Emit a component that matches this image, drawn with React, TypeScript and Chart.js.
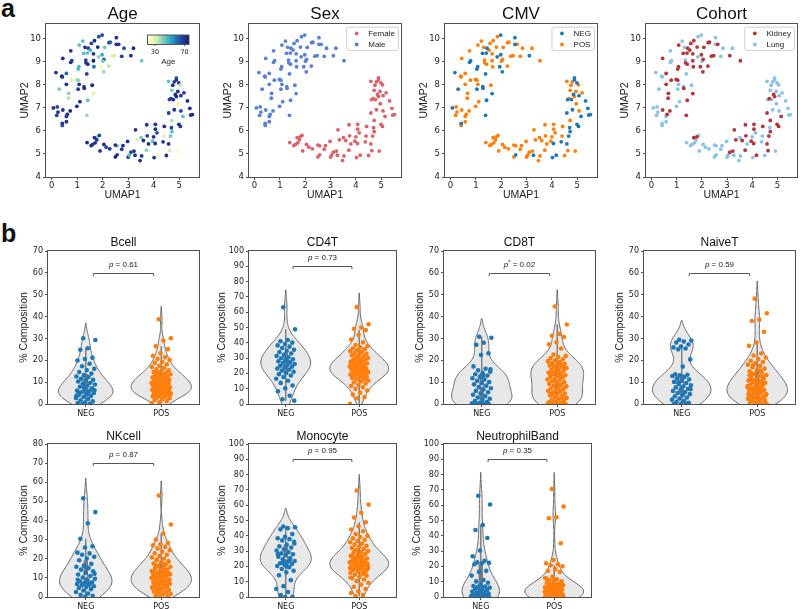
import React, { useEffect, useRef } from "react";
import { Chart, registerables } from "chart.js";

Chart.register(...registerables);

/* ======================= DATA ======================= */
// UMAP embedding (first 77 male, then 80 female)
const umapX = [
  1.98, 1.85, 2.54, 1.68, 1.56, 1.22, 1.08, 1.31, 1.44, 1.52, 1.81, 2.25, 2.30, 2.54, 2.63, 2.84, 3.21, 2.08, 1.26, 1.41,
  1.64, 1.98, 1.84, 2.05, 2.01, 2.38, 2.47, 2.75, 3.11, 3.53, 0.44, 0.75, 0.79, 0.75, 1.34, 1.35, 1.42, 1.64, 1.66, 1.94,
  2.24, 2.04, 1.04, 1.07, 0.17, 0.40, 0.42, 0.58, 1.38, 0.98, 1.04, 0.78, 0.58, 0.30, 1.08, 1.27, 1.59, 1.28, 1.04, 0.67,
  1.64, 0.66, 1.11, 1.42, 0.99, 0.07, 0.22, 0.44, 0.73, 0.25, 0.20, 0.62, 0.58, 1.38, 0.58, 0.42, 0.42,
  4.89, 4.89, 4.59, 4.81, 4.99, 5.05, 4.75, 4.72, 4.95, 5.19, 4.85, 4.89, 4.68, 4.62, 4.77, 5.07, 5.33, 4.96, 4.81, 4.59,
  5.42, 5.07, 5.15, 5.45, 5.52, 4.72, 4.99, 5.05, 4.42, 4.07, 3.73, 4.07, 3.29, 4.70, 4.72, 4.66, 4.40, 4.13, 4.00, 3.75,
  3.51, 3.35, 3.60, 2.98, 3.96, 3.80, 4.06, 4.37, 4.59, 4.63, 4.92, 4.50, 4.17, 4.02, 3.53, 3.27, 3.11, 3.23, 3.00, 3.04,
  3.47, 2.50, 2.57, 2.57, 2.50, 2.28, 2.14, 2.05, 1.90, 1.61, 1.71, 1.80, 1.68, 1.87, 1.77, 1.39, 1.55, 2.80, 2.75, 3.72,
];
const umapY = [
  10.14, 10.07, 10.03, 9.90, 9.78, 9.88, 9.71, 9.61, 9.57, 9.49, 9.62, 9.81, 9.83, 9.74, 9.74, 9.57, 9.57, 9.61, 9.35, 9.36,
  9.33, 9.29, 9.20, 9.09, 9.01, 9.23, 9.25, 9.22, 9.25, 9.03, 9.13, 8.96, 9.03, 9.46, 9.06, 8.94, 8.88, 9.03, 8.77, 8.77,
  8.80, 8.55, 8.67, 8.77, 8.52, 8.36, 8.33, 8.48, 8.46, 8.22, 8.19, 8.19, 8.01, 7.80, 8.01, 7.91, 7.97, 7.84, 7.80, 7.62,
  7.61, 7.41, 7.26, 7.32, 7.06, 6.99, 7.03, 6.90, 6.86, 6.81, 6.67, 6.71, 6.62, 6.67, 6.39, 6.32, 6.23,
  8.29, 8.20, 8.14, 8.12, 8.07, 7.99, 7.97, 7.75, 7.70, 7.64, 7.57, 7.48, 7.39, 7.35, 7.35, 7.52, 7.29, 7.17, 6.91, 6.77,
  6.97, 6.86, 6.62, 6.68, 6.70, 6.45, 6.28, 6.19, 6.19, 6.28, 6.26, 6.07, 6.04, 6.13, 5.96, 5.77, 5.77, 5.91, 5.74, 5.78,
  5.70, 5.61, 5.58, 5.54, 5.55, 5.43, 5.45, 5.52, 5.43, 5.14, 5.12, 4.93, 4.94, 4.84, 4.91, 4.94, 5.07, 5.12, 4.86, 4.94,
  4.71, 4.87, 4.96, 5.35, 5.38, 5.22, 5.29, 5.41, 5.13, 5.41, 5.48, 5.74, 5.70, 5.80, 5.61, 5.49, 5.36, 5.36, 5.20, 5.16,
];
const umapAge = [
  68, 65, 70, 72, 66, 45, 44, 70, 67, 48, 73, 70, 62, 71, 69, 64, 70, 43, 45, 44,
  70, 50, 40, 62, 42, 29, 31, 68, 70, 42, 70, 72, 68, 70, 66, 71, 69, 74, 60, 25,
  35, 38, 46, 47, 70, 72, 70, 60, 68, 34, 40, 30, 70, 42, 70, 65, 72, 70, 68, 40,
  30, 36, 70, 44, 71, 70, 66, 69, 72, 70, 67, 70, 68, 38, 70, 72, 65,
  60, 70, 44, 68, 70, 35, 70, 42, 70, 68, 70, 72, 70, 66, 70, 69, 70, 26, 70, 68,
  70, 66, 44, 70, 72, 36, 70, 68, 70, 69, 70, 71, 70, 66, 44, 42, 30, 65, 70, 67,
  42, 30, 70, 70, 45, 70, 70, 69, 70, 32, 24, 70, 26, 70, 68, 70, 66, 70, 70, 45,
  70, 72, 69, 44, 70, 70, 66, 70, 70, 68, 70, 38, 70, 66, 70, 72, 70, 70, 68, 40,
];
const umapSex =
  "MMMMMMMMMM" + "MMMMMMMMMM" + "MMMMMMMMMM" + "MMMMMMMMMM" + "MMMMMMMMMM" + "MMMMMMMMMM" + "MMMMMMMMMM" + "MMMMMMM" +
  "FFFFFFFFFF" + "FFFFFFFFFF" + "FFFFFFFFFF" + "FFFFFFFFFF" + "FFFFFFFFFF" + "FFFFFFFFFF" + "FFFFFFFFFF" + "FFFFFFFFFF";
const umapCmv =
  "NPNPPPPPNP" + "PPPNPPPPNN" + "PNNPPPPPNP" + "PNNPPPPPPN" + "PNNNNPPPNP" + "PPPNPNPNNP" + "NPPNPNPPPP" + "PPPNPNP" +
  "NNPPNPPPPP" + "NPPNNNNPNN" + "NPNNNPNNPP" + "PPPNNNPPPP" + "PPPPPPNNNP" + "PPNNPNPPPP" + "PPNPPPPPPP" + "PPPPPPPPPP";
const umapCohort =
  "LLLKKLKLKK" + "KKKLKLLKKK" + "KKLKLKKLKK" + "KLLLLKKKKK" + "KKKKLLLKLK" + "KKKLLLLKLK" + "KKLKLLLKKL" + "LKLKLLL" +
  "LLLLLLLLLL" + "KKKLLLLLLK" + "LLKLLKKKKK" + "KKKLKKLLLK" + "LKKLKLKLKK" + "LLKLLLKKLL" + "LLLLLLLLLL" + "LKKLLLLLLK";

const umapTitles = ["Age", "Sex", "CMV", "Cohort"];
const umapXTicks = [0, 1, 2, 3, 4, 5];
const umapYTicks = [4, 5, 6, 7, 8, 9, 10];
const umapXRange = [-0.22, 5.78];
const umapYRange = [4, 10.62];
const ageBarTicks = [30, 70];
const ageRange = [20, 76];
const sexLabels = ["Female", "Male"];
const cmvGroups = ["NEG", "POS"];
const cohortLabels = ["Kidney", "Lung"];

// % composition per cell type
const bcellNeg = [30.1, 29.3, 25.5, 24.8, 21.2, 20.6, 19.9, 18.4, 17.3, 16.1, 15.5, 14.6, 13.9, 13.2, 12.6, 12.3, 11.5, 11.1, 10.7, 10.3,
  9.7, 9.4, 8.9, 8.3, 7.9, 7.2, 6.6, 6.1, 5.8, 5.4, 5.0, 4.6, 4.1, 3.7, 3.2, 2.8, 2.3, 1.7, 1.2, 0.8, 0.4, 0.1, 0.0, 6.3, 4.4, 5.2, 6.9, 7.6, 3.9, 5.6];
const bcellPos = [38.8, 30.1, 29.0, 26.4, 25.1, 23.2, 22.1, 21.4, 20.7, 20.1, 19.3, 18.8, 18.2, 17.5, 16.9, 16.4, 15.9, 15.4, 15.0, 14.6,
  14.2, 13.9, 13.6, 13.2, 12.9, 12.6, 12.3, 12.0, 11.7, 11.4, 11.1, 10.8, 10.5, 10.2, 9.9, 9.6, 9.4, 9.1, 8.8, 8.6,
  8.3, 8.1, 7.8, 7.6, 7.4, 7.1, 6.9, 6.7, 6.5, 6.3, 6.1, 5.9, 5.7, 5.5, 5.3, 5.1, 4.9, 4.7, 4.5, 4.2,
  3.9, 3.6, 3.3, 3.0, 2.6, 2.2, 1.8, 1.3, 0.8, 0.3, 7.2, 8.4, 9.7, 10.9, 12.2, 6.8, 5.6, 4.4, 13.1, 7.9, 6.0, 11.9, 9.2, 8.9, 14.4];
const cd4tNeg = [63.2, 48.8, 41.8, 41.0, 40.1, 39.2, 38.3, 37.5, 36.6, 35.5, 34.8, 33.9, 33.0, 32.1, 31.4, 30.6, 29.9, 29.2, 28.6, 27.9,
  27.3, 26.7, 26.1, 25.6, 25.0, 24.4, 23.8, 23.2, 22.5, 21.8, 21.0, 20.3, 19.5, 18.6, 17.6, 16.5, 15.2, 13.8, 12.1, 10.2, 8.3, 5.4, 3.1, 2.2, 28.1];
const cd4tPos = [63.3, 52.1, 50.0, 49.2, 48.3, 45.2, 42.1, 40.3, 38.6, 37.9, 37.1, 36.4, 35.8, 35.2, 34.6, 34.0, 33.4, 32.8, 32.3, 31.8,
  31.2, 30.7, 30.2, 29.7, 29.2, 28.8, 28.3, 27.8, 27.4, 26.9, 26.5, 26.1, 25.6, 25.2, 24.8, 24.4, 24.0, 23.6, 23.2, 22.8,
  22.4, 22.0, 21.6, 21.2, 20.8, 20.4, 20.0, 19.6, 19.2, 18.8, 18.4, 18.0, 17.5, 17.0, 16.5, 16.0, 15.4, 14.8, 14.1, 13.4,
  12.6, 11.8, 10.9, 9.9, 8.8, 7.4, 6.1, 4.6, 3.8, 0.2, 25.9, 23.4, 21.9, 19.9, 27.1, 24.6, 22.2, 20.6, 28.0, 17.8, 16.2, 30.1, 26.3, 23.0, 21.4];
const cd8tNeg = [30.8, 30.3, 28.0, 27.1, 23.2, 22.4, 17.2, 16.1, 15.4, 14.8, 14.2, 13.6, 13.0, 12.4, 11.8, 11.2, 10.6, 10.0, 9.5, 9.0,
  8.4, 7.8, 7.2, 6.6, 6.0, 5.4, 4.8, 4.2, 3.6, 3.0, 2.4, 1.9, 1.4, 1.0, 0.6, 0.3, 0.1, 0.0, 0.0, 0.0, 0.0, 0.0, 0.0, 15.9, 12.9];
const cd8tPos = [44.6, 36.4, 32.1, 31.2, 30.6, 28.2, 27.3, 25.4, 22.6, 22.0, 21.5, 21.0, 20.5, 20.0, 19.6, 19.2, 18.8, 18.4, 18.0, 17.6,
  17.2, 16.8, 16.4, 16.0, 15.6, 15.2, 14.8, 14.4, 14.0, 13.6, 13.2, 12.8, 12.4, 12.0, 11.6, 11.2, 10.8, 10.4, 10.0, 9.6,
  9.2, 8.8, 8.4, 8.0, 7.6, 7.2, 6.8, 6.4, 6.0, 5.6, 5.2, 4.8, 4.4, 4.0, 3.6, 3.2, 2.8, 2.4, 2.0, 1.6,
  1.2, 0.8, 0.4, 0.2, 0.0, 0.0, 0.0, 0.0, 0.0, 0.0, 0.0, 17.9, 16.6, 15.1, 13.9, 12.6, 10.9, 8.1, 6.3, 4.6, 2.6, 1.1, 19.4, 18.3, 14.6];
const naiveNeg = [29.4, 29.0, 28.6, 28.1, 27.2, 26.3, 25.9, 25.4, 25.0, 20.4, 17.1, 13.6, 13.4, 13.1, 12.8, 12.3, 11.8, 11.2, 10.7, 10.1,
  9.6, 9.1, 8.6, 8.1, 7.6, 7.0, 6.5, 6.0, 5.5, 5.0, 4.5, 4.0, 3.5, 3.0, 2.5, 2.0, 1.5, 1.0, 0.6, 0.2, 0.0, 0.0, 9.9, 6.8, 4.2];
const naivePos = [48.2, 41.5, 38.6, 38.0, 33.0, 28.1, 26.6, 23.1, 22.2, 21.3, 20.6, 19.8, 19.2, 18.6, 18.0, 17.4, 16.8, 16.2, 15.6, 15.0,
  14.4, 13.8, 13.3, 12.8, 12.3, 11.8, 11.3, 10.8, 10.4, 10.0, 9.6, 9.2, 8.8, 8.4, 8.0, 7.6, 7.2, 6.8, 6.4, 6.0,
  5.6, 5.2, 4.8, 4.4, 4.0, 3.6, 3.2, 2.8, 2.4, 2.0, 1.6, 1.2, 0.8, 0.4, 0.1, 0.0, 0.0, 0.0, 11.1, 9.9,
  8.7, 7.4, 6.2, 5.1, 3.9, 2.6, 1.4, 12.6, 10.6, 8.2, 5.9, 3.3, 1.9, 0.6, 13.1, 9.4, 7.0, 4.6, 2.2, 14.1, 11.5, 6.6, 4.2, 15.3, 17.7];
const nkNeg = [51.6, 44.4, 38.5, 30.4, 26.5, 25.9, 23.2, 22.8, 22.1, 21.0, 20.1, 19.2, 17.3, 16.4, 15.8, 15.1, 14.3, 13.4, 12.6, 11.8,
  11.0, 10.2, 9.5, 8.8, 8.2, 7.7, 7.2, 6.8, 6.4, 6.0, 5.6, 5.2, 4.7, 4.1, 3.4, 2.6, 1.8, 1.1, 0.6, 0.2, 9.0, 7.0, 6.6, 12.1, 15.4];
const nkPos = [53.1, 37.9, 33.2, 30.1, 28.3, 27.6, 27.0, 26.2, 25.4, 24.5, 23.7, 22.9, 22.1, 21.4, 20.7, 20.0, 19.3, 18.7, 18.1, 17.5,
  16.9, 16.3, 15.8, 15.3, 14.8, 14.3, 13.8, 13.3, 12.9, 12.5, 12.1, 11.7, 11.3, 10.9, 10.5, 10.1, 9.7, 9.3, 8.9, 8.5,
  8.1, 7.7, 7.3, 6.9, 6.5, 6.1, 5.7, 5.3, 4.9, 4.5, 4.1, 3.7, 3.3, 2.9, 2.5, 2.1, 1.7, 1.3, 0.9, 0.5,
  0.2, 12.7, 11.5, 10.3, 9.1, 7.9, 6.7, 5.5, 4.3, 13.6, 14.6, 16.6, 18.4, 8.3, 10.7, 6.3, 3.1, 11.9, 9.5, 15.6, 12.3, 7.5, 5.1, 17.2, 19.6];
const monoNeg = [46.1, 45.6, 45.0, 44.2, 41.1, 39.3, 38.4, 37.8, 37.0, 36.1, 34.2, 33.1, 32.3, 31.2, 30.4, 29.3, 28.5, 27.9, 27.2, 26.3,
  25.4, 24.6, 23.5, 22.7, 22.1, 21.6, 21.0, 20.3, 19.4, 18.3, 17.2, 16.1, 14.2, 11.0, 7.1, 5.2, 3.3, 1.2, 0.2, 0.0, 28.0, 24.0, 22.4, 35.0, 19.9];
const monoPos = [69.6, 60.4, 55.1, 52.0, 48.9, 46.2, 44.1, 43.0, 41.2, 40.1, 39.2, 38.3, 37.4, 36.6, 35.8, 35.0, 34.2, 33.5, 32.8, 32.1,
  31.4, 30.7, 30.0, 29.4, 28.8, 28.2, 27.6, 27.0, 26.4, 25.8, 25.2, 24.7, 24.2, 23.7, 23.2, 22.7, 22.2, 21.7, 21.2, 20.7,
  20.2, 19.7, 19.2, 18.7, 18.2, 17.7, 17.1, 16.5, 15.9, 15.3, 14.6, 13.9, 13.1, 12.3, 11.4, 10.4, 9.3, 8.1, 6.7, 5.2,
  3.8, 2.6, 1.5, 0.7, 21.9, 20.4, 19.4, 23.4, 24.4, 18.9, 22.4, 25.5, 17.4, 20.9, 26.6, 16.2, 21.4, 19.9, 27.3, 23.0, 14.9, 18.0, 12.7, 24.0, 30.4];
const neutNeg = [66.2, 60.5, 47.1, 43.8, 38.6, 30.4, 26.6, 23.6, 22.6, 22.3, 22.0, 21.4, 17.1, 16.4, 14.0, 11.1, 10.2, 9.3, 8.1, 7.2,
  6.9, 6.5, 6.1, 5.8, 5.2, 4.6, 4.0, 3.5, 3.0, 2.7, 2.3, 1.9, 1.5, 1.2, 0.9, 0.6, 0.4, 0.2, 0.1, 0.0, 0.0, 0.0, 0.0, 0.0, 1.7];
const neutPos = [70.6, 59.1, 52.2, 51.5, 35.1, 24.2, 22.1, 21.4, 20.8, 20.1, 18.2, 17.1, 16.3, 13.2, 12.4, 11.6, 10.9, 10.3, 9.7, 9.2,
  8.7, 8.2, 7.7, 7.3, 6.9, 6.5, 6.1, 5.8, 5.5, 5.2, 4.9, 4.6, 4.3, 4.0, 3.7, 3.4, 3.1, 2.8, 2.5, 2.3,
  2.1, 1.9, 1.7, 1.5, 1.3, 1.1, 0.9, 0.7, 0.5, 0.4, 0.3, 0.2, 0.1, 0.0, 0.0, 0.0, 0.0, 0.0, 0.0, 0.0,
  0.0, 3.3, 2.6, 1.8, 1.2, 0.6, 5.0, 4.4, 3.9, 6.3, 7.1, 8.0, 9.0, 10.6, 11.9, 2.0, 1.4, 0.8, 3.6, 4.8, 5.6, 6.7, 2.4, 1.0, 0.3];

const violinTitles = ["Bcell", "CD4T", "CD8T", "NaiveT", "NKcell", "Monocyte", "NeutrophilBand"];
const violinNeg = [bcellNeg, cd4tNeg, cd8tNeg, naiveNeg, nkNeg, monoNeg, neutNeg];
const violinPos = [bcellPos, cd4tPos, cd8tPos, naivePos, nkPos, monoPos, neutPos];
const violinYMax = [70, 100, 70, 70, 80, 100, 100];
const violinYStep = 10;
const pValues = ["0.61", "0.73", "0.02", "0.59", "0.87", "0.95", "0.35"];
const pStarred = [false, false, true, false, false, false, false];

/* ======================= STYLE / LAYOUT ======================= */
const SANS = "'Liberation Sans', Arial, Helvetica, sans-serif";
const TICKF = "'DejaVu Sans', 'Liberation Sans', sans-serif";
const INK = "#222222";
const SPINE = "#505050";
const C_FEMALE = "#d8646b";
const C_MALE = "#5b80d2";
const C_NEG = "#1f77b4";
const C_POS = "#ff7f0e";
const C_KIDNEY = "#b5343c";
const C_LUNG = "#8cc3e4";
const VIOLIN_FILL = "#e8e8e8";
const VIOLIN_EDGE = "#666666";
const BOX_GRAY = "#7a7a7a";
const YLGNBU = ["#ffffd9", "#edf8b1", "#c7e9b4", "#7fcdbb", "#41b6c4", "#1d91c0", "#225ea8", "#253494", "#081d58"];
const JITTER = 0.13;

const TOP_T = 24, TOP_B = 177, TOP_H = 204;
const topFrames = [
  { l: 46, r: 199 },
  { l: 249, r: 401 },
  { l: 445, r: 597 },
  { l: 646, r: 797 },
];
const violinFrames = [
  { l: 48, r: 199, t: 251, b: 404, bottom: 20, tp: 7.6, ytp: 16.8 },
  { l: 249, r: 396, t: 251, b: 404, bottom: 20, tp: 7.6, ytp: 14 },
  { l: 444, r: 595, t: 251, b: 404, bottom: 20, tp: 7.6, ytp: 16.8 },
  { l: 644, r: 795, t: 251, b: 404, bottom: 20, tp: 7.6, ytp: 16.8 },
  { l: 48, r: 199, t: 444, b: 597, bottom: 12, tp: 8.8, ytp: 16.8 },
  { l: 249, r: 396, t: 444, b: 597, bottom: 12, tp: 8.8, ytp: 14 },
  { l: 444, r: 591, t: 444, b: 597, bottom: 12, tp: 8.8, ytp: 14 },
];
const LEFT_BOX = 46;
const RIGHT_PAD = 4;

/* ======================= HELPERS ======================= */
function hexRgb(h) {
  const n = parseInt(h.slice(1), 16);
  return [(n >> 16) & 255, (n >> 8) & 255, n & 255];
}
function ylgnbu(t) {
  const c = Math.max(0, Math.min(1, t)) * (YLGNBU.length - 1);
  const i = Math.min(Math.floor(c), YLGNBU.length - 2);
  const f = c - i;
  const a = hexRgb(YLGNBU[i]);
  const b = hexRgb(YLGNBU[i + 1]);
  const m = a.map((v, k) => Math.round(v + (b[k] - v) * f));
  return `rgb(${m[0]},${m[1]},${m[2]})`;
}
function pct(sorted, p) {
  const idx = (sorted.length - 1) * p;
  const lo = Math.floor(idx), hi = Math.ceil(idx);
  return sorted[lo] + (sorted[hi] - sorted[lo]) * (idx - lo);
}
function kde(vals) {
  const n = vals.length;
  const mean = vals.reduce((a, b) => a + b, 0) / n;
  const sd = Math.sqrt(vals.reduce((a, b) => a + (b - mean) * (b - mean), 0) / (n - 1));
  const bw = sd * Math.pow(n, -0.2);
  const lo = Math.min(...vals) - 2 * bw;
  const hi = Math.max(...vals) + 2 * bw;
  const N = 120;
  const ys = [], ds = [];
  const norm = 1 / (n * bw * Math.sqrt(2 * Math.PI));
  for (let i = 0; i < N; i++) {
    const y = lo + ((hi - lo) * i) / (N - 1);
    let s = 0;
    for (const v of vals) {
      const z = (y - v) / bw;
      s += Math.exp(-0.5 * z * z);
    }
    ys.push(y);
    ds.push(s * norm);
  }
  return { ys, ds };
}
function jitter(i) {
  const f = (i * 0.6180339887 + 0.37) % 1;
  return (f * 2 - 1) * JITTER;
}

const framePlugin = {
  id: "mplFrame",
  afterDraw(chart) {
    const { ctx, chartArea: a } = chart;
    ctx.save();
    ctx.strokeStyle = SPINE;
    ctx.lineWidth = 1;
    ctx.strokeRect(a.left - 0.5, a.top - 0.5, a.right - a.left + 1, a.bottom - a.top + 1);
    ctx.restore();
  },
};

function legendPlugin(items) {
  return {
    id: "mplLegend",
    afterDraw(chart) {
      const { ctx, chartArea: a } = chart;
      ctx.save();
      ctx.font = `8px ${SANS}`;
      const tw = Math.max(...items.map((it) => ctx.measureText(it.label).width));
      const w = 21.6 + tw + 3.6;
      const h = 23.2;
      const x = a.right - 2.5 - w;
      const y = a.top + 3.2;
      ctx.beginPath();
      if (ctx.roundRect) ctx.roundRect(x, y, w, h, 2);
      else ctx.rect(x, y, w, h);
      ctx.fillStyle = "rgba(255,255,255,0.85)";
      ctx.fill();
      ctx.strokeStyle = "#cfcfcf";
      ctx.lineWidth = 1;
      ctx.stroke();
      items.forEach((it, k) => {
        const cy = y + 6.2 + k * 11;
        ctx.beginPath();
        ctx.arc(x + 10, cy, 1.9, 0, Math.PI * 2);
        ctx.fillStyle = it.color;
        ctx.fill();
        ctx.fillStyle = INK;
        ctx.textBaseline = "middle";
        ctx.textAlign = "left";
        ctx.fillText(it.label, x + 21.6, cy + 0.5);
      });
      ctx.restore();
    },
  };
}

const colorbarPlugin = {
  id: "ageColorbar",
  afterDraw(chart) {
    const { ctx, chartArea: a } = chart;
    const x0 = a.right - 51.5, x1 = a.right - 10;
    const y0 = a.top + 11, y1 = a.top + 20.5;
    ctx.save();
    const g = ctx.createLinearGradient(x0, 0, x1, 0);
    YLGNBU.forEach((c, i) => g.addColorStop(i / (YLGNBU.length - 1), c));
    ctx.fillStyle = g;
    ctx.fillRect(x0, y0, x1 - x0, y1 - y0);
    ctx.strokeStyle = "#555";
    ctx.lineWidth = 1;
    ctx.strokeRect(x0, y0, x1 - x0, y1 - y0);
    ctx.fillStyle = INK;
    ctx.font = `6.5px ${TICKF}`;
    ctx.textAlign = "center";
    ctx.textBaseline = "middle";
    ageBarTicks.forEach((v) => {
      const px = x0 + ((v - ageRange[0]) / (ageRange[1] - ageRange[0])) * (x1 - x0);
      ctx.beginPath();
      ctx.moveTo(px, y1);
      ctx.lineTo(px, y1 + 1.5);
      ctx.strokeStyle = "#555";
      ctx.stroke();
      ctx.fillText(String(v), px, a.top + 28);
    });
    ctx.font = `8px ${SANS}`;
    ctx.fillText("Age", (x0 + x1) / 2, a.top + 37.5);
    ctx.restore();
  },
};

function violinPlugin(groups) {
  const stats = groups.map((vals) => {
    const s = [...vals].sort((p, q) => p - q);
    const k = kde(vals);
    const q1 = pct(s, 0.25), q2 = pct(s, 0.5), q3 = pct(s, 0.75);
    const lim = 1.5 * (q3 - q1);
    const lowW = s.find((v) => v >= q1 - lim);
    const hiW = [...s].reverse().find((v) => v <= q3 + lim);
    return { ...k, q1, q2, q3, lowW, hiW };
  });
  const maxD = Math.max(...stats.map((st) => Math.max(...st.ds)));
  return {
    id: "violins",
    beforeDatasetsDraw(chart) {
      const { ctx, chartArea: a } = chart;
      const xs = chart.scales.x, ys = chart.scales.y;
      ctx.save();
      ctx.beginPath();
      ctx.rect(a.left, a.top, a.right - a.left, a.bottom - a.top);
      ctx.clip();
      stats.forEach((st, g) => {
        ctx.beginPath();
        for (let i = 0; i < st.ys.length; i++) {
          const hw = (st.ds[i] / maxD) * 0.4;
          const px = xs.getPixelForValue(g + hw), py = ys.getPixelForValue(st.ys[i]);
          if (i === 0) ctx.moveTo(px, py);
          else ctx.lineTo(px, py);
        }
        for (let i = st.ys.length - 1; i >= 0; i--) {
          const hw = (st.ds[i] / maxD) * 0.4;
          ctx.lineTo(xs.getPixelForValue(g - hw), ys.getPixelForValue(st.ys[i]));
        }
        ctx.closePath();
        ctx.fillStyle = VIOLIN_FILL;
        ctx.fill();
        ctx.strokeStyle = VIOLIN_EDGE;
        ctx.lineWidth = 1;
        ctx.stroke();
        const cx = xs.getPixelForValue(g);
        ctx.strokeStyle = BOX_GRAY;
        ctx.lineCap = "butt";
        ctx.lineWidth = 1.4;
        ctx.beginPath();
        ctx.moveTo(cx, ys.getPixelForValue(st.lowW));
        ctx.lineTo(cx, ys.getPixelForValue(st.hiW));
        ctx.stroke();
        ctx.lineWidth = 4.4;
        ctx.beginPath();
        ctx.moveTo(cx, ys.getPixelForValue(st.q1));
        ctx.lineTo(cx, ys.getPixelForValue(st.q3));
        ctx.stroke();
        ctx.beginPath();
        ctx.arc(cx, ys.getPixelForValue(st.q2), 1.6, 0, Math.PI * 2);
        ctx.fillStyle = "#ffffff";
        ctx.fill();
        ctx.lineWidth = 0.7;
        ctx.stroke();
      });
      ctx.restore();
    },
  };
}

function bracketPlugin(k) {
  return {
    id: "pBracket",
    afterDraw(chart) {
      const { ctx } = chart;
      const xs = chart.scales.x, ys = chart.scales.y;
      const py = Math.round(ys.getPixelForValue(violinYMax[k] - 10)) + 0.5;
      const x1 = xs.getPixelForValue(0.1), x2 = xs.getPixelForValue(0.9);
      ctx.save();
      ctx.strokeStyle = "#555";
      ctx.lineWidth = 1;
      ctx.beginPath();
      ctx.moveTo(x1, py + 2.5);
      ctx.lineTo(x1, py);
      ctx.lineTo(x2, py);
      ctx.lineTo(x2, py + 2.5);
      ctx.stroke();
      const fItal = `italic 8px ${SANS}`;
      const fNorm = `8px ${SANS}`;
      const fStar = `5.5px ${SANS}`;
      const rest = " = " + pValues[k];
      ctx.font = fItal;
      const wp = ctx.measureText("p").width;
      ctx.font = fStar;
      const ws = pStarred[k] ? ctx.measureText("*").width : 0;
      ctx.font = fNorm;
      const wr = ctx.measureText(rest).width;
      let x = (x1 + x2) / 2 - (wp + ws + wr) / 2;
      const by = py - 6.5;
      ctx.fillStyle = INK;
      ctx.textAlign = "left";
      ctx.textBaseline = "alphabetic";
      ctx.font = fItal;
      ctx.fillText("p", x, by);
      x += wp;
      if (pStarred[k]) {
        ctx.font = fStar;
        ctx.fillText("*", x, by - 3);
        x += ws;
      }
      ctx.font = fNorm;
      ctx.fillText(rest, x, by);
      ctx.restore();
    },
  };
}

function xAxis(o) {
  return {
    type: "linear",
    position: "bottom",
    min: o.min,
    max: o.max,
    grid: { display: true, drawOnChartArea: false, drawTicks: true, tickLength: 3, color: SPINE, lineWidth: 1 },
    border: { display: false },
    ticks: {
      color: INK,
      font: { family: TICKF, size: o.tickSize },
      padding: o.tickPad,
      maxRotation: 0,
      minRotation: 0,
      autoSkip: false,
      callback: o.labels ? (v) => o.labels[v] : (v) => String(v),
    },
    afterBuildTicks: (s) => {
      s.ticks = o.ticks.map((v) => ({ value: v }));
    },
    afterFit: (s) => {
      s.height = o.boxH;
    },
    title: o.title
      ? { display: true, text: o.title, color: INK, font: { family: SANS, size: 10.5, lineHeight: 1 }, padding: o.titlePad }
      : { display: false },
  };
}
function yAxis(o) {
  return {
    type: "linear",
    position: "left",
    min: o.min,
    max: o.max,
    grid: { display: true, drawOnChartArea: false, drawTicks: true, tickLength: 3, color: SPINE, lineWidth: 1 },
    border: { display: false },
    ticks: {
      color: INK,
      font: { family: TICKF, size: o.tickSize },
      padding: 2,
      autoSkip: false,
      callback: (v) => String(v),
    },
    afterBuildTicks: (s) => {
      s.ticks = o.ticks.map((v) => ({ value: v }));
    },
    afterFit: (s) => {
      s.width = LEFT_BOX;
    },
    title: { display: true, text: o.title, color: INK, font: { family: SANS, size: 10.5, lineHeight: 1 }, padding: o.titlePad },
  };
}

function umapConfig(p) {
  const pts = umapX.map((x, i) => ({ x, y: umapY[i] }));
  let datasets;
  const extra = [framePlugin];
  const base = { pointRadius: 1.9, pointBorderWidth: 0, pointHoverRadius: 0 };
  if (p === 0) {
    datasets = [
      {
        ...base,
        label: "Age",
        data: pts,
        pointBackgroundColor: umapAge.map((a) => ylgnbu((a - ageRange[0]) / (ageRange[1] - ageRange[0]))),
      },
    ];
    extra.push(colorbarPlugin);
  } else {
    const attr = p === 1 ? umapSex : p === 2 ? umapCmv : umapCohort;
    const groups =
      p === 1
        ? [["F", sexLabels[0], C_FEMALE], ["M", sexLabels[1], C_MALE]]
        : p === 2
        ? [["N", cmvGroups[0], C_NEG], ["P", cmvGroups[1], C_POS]]
        : [["K", cohortLabels[0], C_KIDNEY], ["L", cohortLabels[1], C_LUNG]];
    datasets = groups.map(([code, label, color]) => ({
      ...base,
      label,
      data: pts.filter((_, i) => attr[i] === code),
      pointBackgroundColor: color,
      backgroundColor: color,
    }));
    extra.push(legendPlugin(groups.map(([, label, color]) => ({ label, color }))));
  }
  return {
    type: "scatter",
    data: { datasets },
    options: {
      responsive: false,
      animation: false,
      devicePixelRatio: 1,
      events: [],
      layout: { padding: { left: 0, right: RIGHT_PAD, top: 0, bottom: 0 } },
      plugins: {
        legend: { display: false },
        tooltip: { enabled: false },
        title: {
          display: true,
          fullSize: false,
          text: umapTitles[p],
          color: "#111",
          font: { family: SANS, size: 17, weight: "normal", lineHeight: 1 },
          padding: { top: 5.8, bottom: TOP_T - 17 - 5.8 },
        },
      },
      scales: {
        x: xAxis({ min: umapXRange[0], max: umapXRange[1], ticks: umapXTicks, tickSize: 8.5, tickPad: 0.5, boxH: TOP_H - TOP_B, title: "UMAP1", titlePad: 4 }),
        y: yAxis({ min: umapYRange[0], max: umapYRange[1], ticks: umapYTicks, tickSize: 8.5, title: "UMAP2", titlePad: 19.5 }),
      },
    },
    plugins: extra,
  };
}

function violinConfig(k) {
  const f = violinFrames[k];
  const groups = [violinNeg[k], violinPos[k]];
  const colors = [C_NEG, C_POS];
  const yTicks = [];
  for (let v = 0; v <= violinYMax[k]; v += violinYStep) yTicks.push(v);
  const datasets = groups.map((vals, g) => ({
    label: cmvGroups[g],
    data: vals.map((v, i) => ({ x: g + jitter(i), y: v })),
    pointRadius: 2.3,
    pointBorderWidth: 0,
    pointHoverRadius: 0,
    pointBackgroundColor: colors[g],
    backgroundColor: colors[g],
  }));
  return {
    type: "scatter",
    data: { datasets },
    options: {
      responsive: false,
      animation: false,
      devicePixelRatio: 1,
      events: [],
      layout: { padding: { left: 0, right: RIGHT_PAD, top: 0, bottom: 0 } },
      plugins: {
        legend: { display: false },
        tooltip: { enabled: false },
        title: {
          display: true,
          fullSize: false,
          text: violinTitles[k],
          color: "#111",
          font: { family: SANS, size: 12, weight: "normal", lineHeight: 1 },
          padding: { top: f.tp, bottom: 22 - 12 - f.tp },
        },
      },
      scales: {
        x: xAxis({ min: -0.5, max: 1.5, ticks: [0, 1], labels: cmvGroups, tickSize: 8, tickPad: 2.5, boxH: f.bottom }),
        y: yAxis({ min: 0, max: violinYMax[k], ticks: yTicks, tickSize: 8, title: "% Composition", titlePad: f.ytp }),
      },
    },
    plugins: [violinPlugin(groups), framePlugin, bracketPlugin(k)],
  };
}

function ChartBox({ make, box }) {
  const ref = useRef(null);
  useEffect(() => {
    const chart = new Chart(ref.current, make());
    return () => chart.destroy();
  }, []);
  return (
    <canvas
      ref={ref}
      width={box.w}
      height={box.h}
      style={{ position: "absolute", left: box.x, top: box.y, width: box.w, height: box.h }}
    />
  );
}

export default function App() {
  return (
    <div
      style={{
        position: "absolute",
        left: 0,
        top: 0,
        width: 800,
        height: 609,
        overflow: "hidden",
        background: "#ffffff",
      }}
    >
      <div style={{ position: "absolute", left: 1, top: -7, font: `bold 25px ${SANS}`, lineHeight: "30px", color: "#111" }}>a</div>
      <div style={{ position: "absolute", left: 1, top: 218, font: `bold 25px ${SANS}`, lineHeight: "30px", color: "#111" }}>b</div>
      {topFrames.map((f, p) => (
        <ChartBox
          key={"u" + p}
          make={() => umapConfig(p)}
          box={{ x: f.l - LEFT_BOX, y: 0, w: f.r - f.l + LEFT_BOX + RIGHT_PAD, h: TOP_H }}
        />
      ))}
      {violinFrames.map((f, k) => (
        <ChartBox
          key={"v" + k}
          make={() => violinConfig(k)}
          box={{ x: f.l - LEFT_BOX, y: f.t - 22, w: f.r - f.l + LEFT_BOX + RIGHT_PAD, h: 22 + (f.b - f.t) + f.bottom }}
        />
      ))}
    </div>
  );
}
